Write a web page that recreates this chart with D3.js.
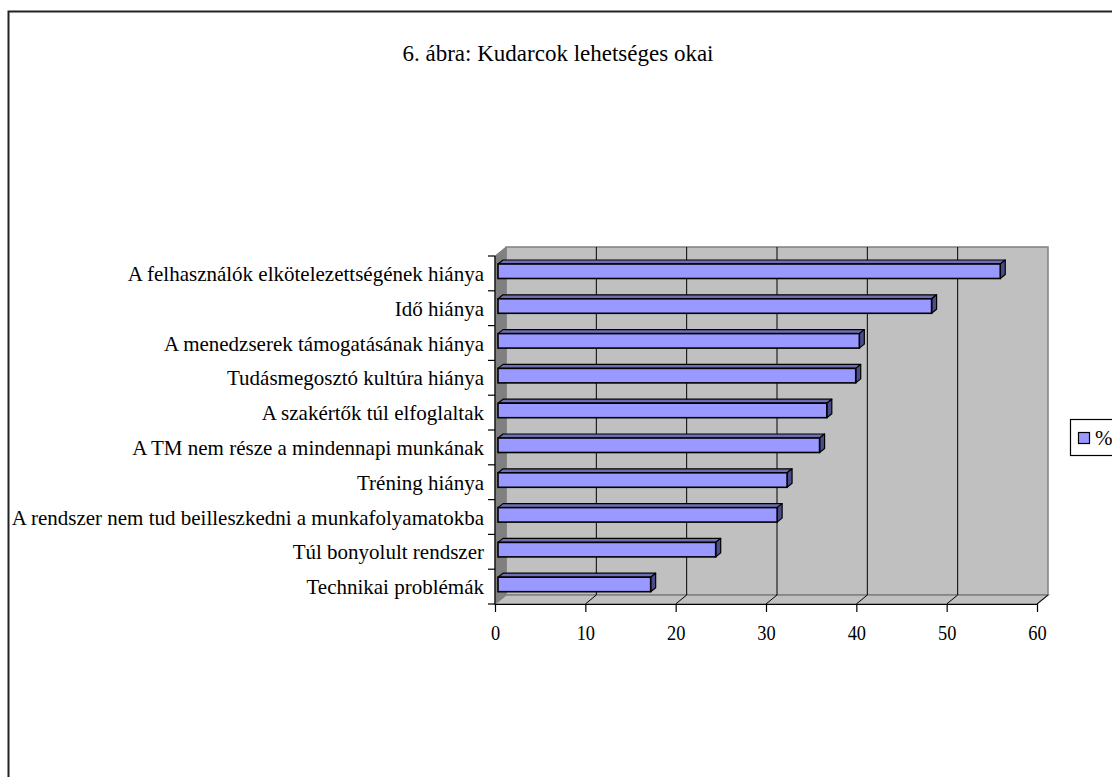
<!DOCTYPE html>
<html>
<head>
<meta charset="utf-8">
<script src="https://cdn.jsdelivr.net/npm/d3@7/dist/d3.min.js"></script>
<style>
  html, body { margin: 0; padding: 0; background: #fff; }
  svg { display: block; }
  text { font-family: "Liberation Serif", "Times New Roman", serif; fill: #000; }
</style>
</head>
<body>
<svg id="chart" width="1112" height="777"></svg>
<script>
// Kudarcok lehetséges okai (%), top to bottom
const categories = [
  "A felhasználók elkötelezettségének hiánya",
  "Idő hiánya",
  "A menedzserek támogatásának hiánya",
  "Tudásmegosztó kultúra hiánya",
  "A szakértők túl elfoglaltak",
  "A TM nem része a mindennapi munkának",
  "Tréning hiánya",
  "A rendszer nem tud beilleszkedni a munkafolyamatokba",
  "Túl bonyolult rendszer",
  "Technikai problémák"
];
const values = [55.6, 48.0, 40.0, 39.6, 36.4, 35.6, 32.0, 30.9, 24.1, 16.9];
const xTicks = [0, 10, 20, 30, 40, 50, 60];
const seriesName = "%";
const title = "6. ábra: Kudarcok lehetséges okai";

const svg = d3.select("#chart");

// outer frame
svg.append("rect")
  .attr("x", 8.5).attr("y", 11.5).attr("width", 1300).attr("height", 1000)
  .attr("fill", "#fff").attr("stroke", "#222").attr("stroke-width", 2);

// 3D geometry
const DX = 11, DY = -9;          // wall depth
const BDX = 5, BDY = -4;         // bar depth
const BAR_SHIFT = 3;             // bar front sits slightly behind the front plane
const x = d3.scaleLinear().domain([0, 60]).range([495, 1037]);
const y = d3.scaleBand().domain(categories).range([256, 604]).paddingInner(0).paddingOuter(0);
const xb = v => x(v) + DX;       // back-wall x
const top0 = y.range()[0], bot0 = y.range()[1];

// back wall
svg.append("rect")
  .attr("x", xb(0)).attr("y", top0 + DY)
  .attr("width", xb(60) - xb(0)).attr("height", bot0 - top0)
  .attr("fill", "#C0C0C0").attr("stroke", "#808080").attr("stroke-width", 1.5);

// left side wall
svg.append("polygon")
  .attr("points", [[x(0), top0], [xb(0), top0 + DY], [xb(0), bot0 + DY], [x(0), bot0]].join(" "))
  .attr("fill", "#808080").attr("stroke", "#808080");

// floor
svg.append("polygon")
  .attr("points", [[x(0), bot0], [xb(0), bot0 + DY], [xb(60), bot0 + DY], [x(60), bot0]].join(" "))
  .attr("fill", "#C0C0C0").attr("stroke", "#808080").attr("stroke-width", 1.5);

// gridlines on back wall and floor
const inner = xTicks.filter(t => t > 0 && t < 60);
svg.append("g").selectAll("line").data(inner).join("line")
  .attr("x1", d => xb(d)).attr("x2", d => xb(d))
  .attr("y1", top0 + DY).attr("y2", bot0 + DY)
  .attr("stroke", "#000").attr("stroke-width", 1);
svg.append("g").selectAll("line").data(xTicks.filter(t => t > 0)).join("line")
  .attr("x1", d => x(d)).attr("x2", d => xb(d))
  .attr("y1", bot0).attr("y2", bot0 + DY)
  .attr("stroke", "#000").attr("stroke-width", 1);

// bars
const barTopOff = 8, barH = 14.5;
const bars = svg.append("g").selectAll("g").data(categories).join("g");
bars.append("polygon") // top face
  .attr("points", (d, i) => {
    const x0 = x(0) + BAR_SHIFT, x1 = x(values[i]) + BAR_SHIFT, yt = y(d) + barTopOff;
    return [[x0, yt], [x0 + BDX, yt + BDY], [x1 + BDX, yt + BDY], [x1, yt]].join(" ");
  })
  .attr("fill", "#6E6EB4").attr("stroke", "#000").attr("stroke-width", 1.2).attr("stroke-linejoin", "round");
bars.append("polygon") // side face
  .attr("points", (d, i) => {
    const x1 = x(values[i]) + BAR_SHIFT, yt = y(d) + barTopOff;
    return [[x1, yt], [x1 + BDX, yt + BDY], [x1 + BDX, yt + barH + BDY], [x1, yt + barH]].join(" ");
  })
  .attr("fill", "#4C4C8A").attr("stroke", "#000").attr("stroke-width", 1.2).attr("stroke-linejoin", "round");
bars.append("rect") // front face
  .attr("x", x(0) + BAR_SHIFT)
  .attr("y", d => y(d) + barTopOff)
  .attr("width", (d, i) => x(values[i]) - x(0))
  .attr("height", barH)
  .attr("fill", "#9999FF").attr("stroke", "#000").attr("stroke-width", 1.6);

// value axis (front bottom)
const xAxis = d3.axisBottom(x).tickValues(xTicks).tickSize(8).tickSizeOuter(0).tickFormat(d3.format("d"));
const gx = svg.append("g").attr("transform", `translate(0,${bot0})`).call(xAxis);
gx.select(".domain").attr("stroke", "#000").attr("stroke-width", 1.2);
gx.selectAll(".tick line").attr("stroke", "#000").attr("stroke-width", 1.2);
gx.selectAll(".tick text")
  .attr("y", 36).attr("dy", 0)
  .attr("font-size", 20)
  .attr("font-family", "Liberation Serif, Times New Roman, serif")
  .attr("style", "transform: scaleX(0.92); transform-box: fill-box; transform-origin: center;");

// category axis (front left)
const catEdges = d3.range(categories.length + 1).map(i => top0 + i * y.step());
svg.append("line")
  .attr("x1", x(0)).attr("x2", x(0)).attr("y1", top0).attr("y2", bot0)
  .attr("stroke", "#000").attr("stroke-width", 1.2);
svg.append("g").selectAll("line").data(catEdges).join("line")
  .attr("x1", x(0) - 7).attr("x2", x(0)).attr("y1", d => d).attr("y2", d => d)
  .attr("stroke", "#000").attr("stroke-width", 1.2);

svg.append("g").selectAll("text").data(categories).join("text")
  .attr("x", x(0) - 11)
  .attr("y", d => y(d) + y.bandwidth() / 2 + 7.5)
  .attr("text-anchor", "end")
  .attr("font-size", 21)
  .text(d => d);

// title
svg.append("text")
  .attr("x", 558).attr("y", 61)
  .attr("text-anchor", "middle")
  .attr("font-size", 23)
  .text(title);

// legend
const lg = svg.append("g").attr("transform", "translate(1070,419)");
lg.append("rect").attr("x", 0.5).attr("y", 0.5).attr("width", 80).attr("height", 36)
  .attr("fill", "#fff").attr("stroke", "#000").attr("stroke-width", 1.2);
lg.append("rect").attr("x", 8.5).attr("y", 13.5).attr("width", 11).attr("height", 11)
  .attr("fill", "#9999FF").attr("stroke", "#000").attr("stroke-width", 1.2);
lg.append("text").attr("x", 25).attr("y", 26).attr("font-size", 21).text(seriesName);
</script>
</body>
</html>
